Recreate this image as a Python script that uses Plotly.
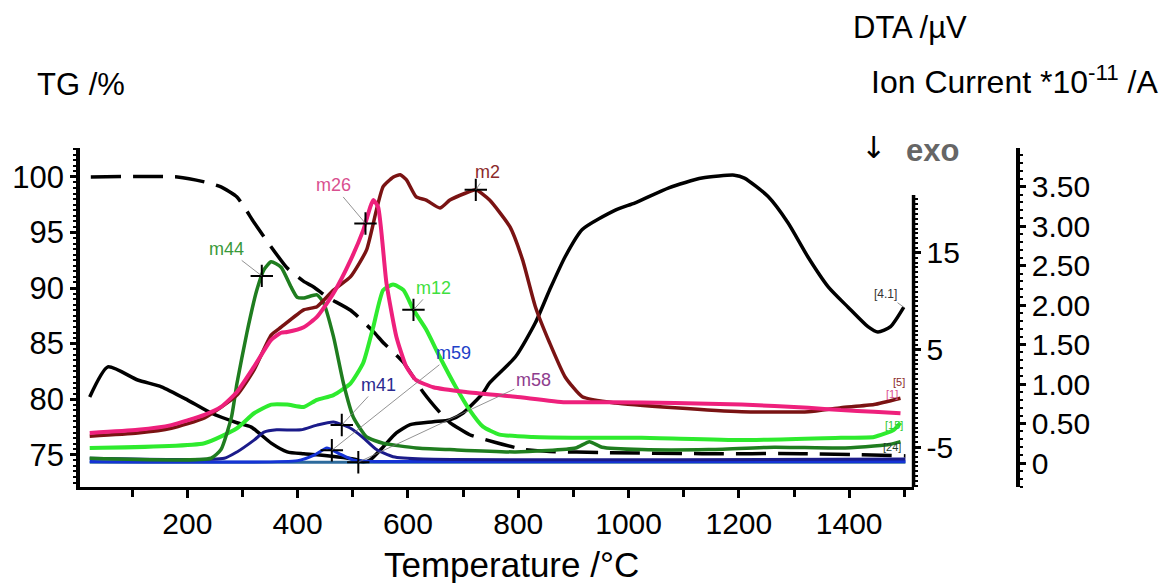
import numpy as np
import plotly.graph_objects as go

# ---------------- data ----------------
# TG (mass, %)
tg_temp = [25, 182, 231, 261, 290, 321, 352, 381, 411, 429, 453, 496, 537, 555, 592,
           628, 658, 676, 712, 759, 808, 857, 952, 1133, 1313, 1502]
tg_mass = [100, 100, 99.55, 99.1, 98.2, 95.9, 93.7, 91.8, 90.6, 90.1, 89.2, 88.0, 86.1,
           85.1, 83.3, 80.6, 78.8, 77.9, 76.8, 76.1, 75.5, 75.3, 75.2, 75.1, 75.1, 74.9]

# DTA (uV)
dta_temp = [23, 56, 110, 153, 200, 243, 290, 316, 352, 381, 411, 435, 507, 519, 532, 555,
            579, 604, 646, 676, 700, 736, 748, 795, 831, 857, 885, 916, 976, 1012, 1073,
            1133, 1192, 1210, 1253, 1289, 1325, 1362, 1398, 1434, 1452, 1475, 1499]
dta_uv = [0.15, 3.25, 1.9, 1.2, -0.15, -1.5, -2.5, -2.95, -4.6, -5.5, -5.7, -5.8, -6.3,
          -6.55, -6.3, -5.0, -3.55, -2.7, -2.4, -2.2, -1.5, 0.55, 1.6, 4.3, 7.8, 11.2,
          14.6, 17.4, 19.4, 20.15, 21.7, 22.7, 23.0, 22.7, 20.8, 18.1, 14.6, 11.5, 9.4,
          7.4, 6.85, 7.4, 9.4]

# Ion currents (*1e-11 A)
m2_temp = [23, 110, 171, 231, 290, 321, 352, 370, 411, 435, 465, 496, 525, 543, 555, 573,
           586, 597, 615, 633, 658, 676, 705, 723, 748, 785, 808, 831, 857, 885, 916, 976,
           1084, 1205, 1326, 1385, 1445, 1493]
m2_ion = [0.34, 0.38, 0.44, 0.57, 0.86, 1.18, 1.62, 1.72, 1.94, 1.98, 2.19, 2.36, 2.70,
          3.21, 3.50, 3.62, 3.65, 3.59, 3.37, 3.33, 3.23, 3.33, 3.42, 3.46, 3.33, 2.99,
          2.57, 1.98, 1.52, 1.09, 0.84, 0.76, 0.70, 0.65, 0.65, 0.70, 0.74, 0.82]

m26_temp = [23, 110, 171, 231, 261, 290, 321, 352, 370, 381, 411, 435, 465, 496, 519, 537,
            546, 561, 579, 597, 615, 646, 705, 795, 885, 965, 1084, 1205, 1326, 1385,
            1445, 1493]
m26_ion = [0.38, 0.42, 0.48, 0.61, 0.71, 0.90, 1.22, 1.56, 1.65, 1.66, 1.72, 1.85, 2.15,
           2.57, 2.95, 3.33, 3.24, 2.28, 1.60, 1.22, 1.05, 0.96, 0.90, 0.84, 0.77, 0.77,
           0.76, 0.74, 0.70, 0.67, 0.65, 0.63]

m44_temp = [23, 243, 261, 280, 290, 308, 326, 339, 352, 370, 388, 399, 411, 435, 447, 465,
            483, 501, 525, 555, 615, 676, 795, 904, 929, 952, 1024, 1145, 1264, 1385, 1470,
            1493]
m44_ion = [0.06, 0.06, 0.17, 0.58, 1.01, 1.65, 2.19, 2.45, 2.55, 2.48, 2.23, 2.10, 2.09,
           2.13, 2.03, 1.60, 1.01, 0.58, 0.33, 0.25, 0.19, 0.17, 0.14, 0.19, 0.27, 0.20,
           0.17, 0.17, 0.20, 0.19, 0.23, 0.27]

m12_temp = [23, 231, 290, 321, 352, 381, 411, 435, 465, 496, 519, 537, 555, 573, 592, 610,
            633, 658, 687, 712, 736, 766, 826, 916, 1024, 1205, 1385, 1445, 1481, 1493]
m12_ion = [0.19, 0.25, 0.44, 0.63, 0.74, 0.74, 0.71, 0.80, 0.86, 1.01, 1.27, 1.72, 2.19,
           2.26, 2.19, 1.94, 1.69, 1.34, 0.96, 0.67, 0.46, 0.36, 0.33, 0.32, 0.32, 0.29,
           0.32, 0.33, 0.42, 0.51]

m41_temp = [23, 267, 290, 321, 339, 362, 406, 435, 465, 496, 519, 543, 573, 628, 1502]
m41_ion = [0.06, 0.06, 0.14, 0.29, 0.39, 0.42, 0.42, 0.48, 0.52, 0.44, 0.32, 0.17, 0.08,
           0.05, 0.05]

m59_temp = [23, 400, 430, 453, 475, 500, 540, 1502]
m59_ion = [0.02, 0.03, 0.10, 0.19, 0.12, 0.04, 0.02, 0.02]

m58_temp = [23, 700, 1502]
m58_ion = [0.01, 0.01, 0.01]

# temperatures of the labelled cursor points
cursor_temp = {"m44": 335, "m26": 523, "m2": 723, "m12": 610, "m41": 480, "m59": 462, "m58": 510}

# ---------------- styling ----------------
REG = "Liberation Sans, Arial, sans-serif"

ms_series = {
    "m58": (m58_temp, m58_ion, "#2C6A9C", 3.0),
    "m59": (m59_temp, m59_ion, "#1533D6", 3.0),
    "m41": (m41_temp, m41_ion, "#1B1B8A", 3.0),
    "m12": (m12_temp, m12_ion, "#2EEB2E", 4.0),
    "m44": (m44_temp, m44_ion, "#1F7D1F", 3.5),
    "m2": (m2_temp, m2_ion, "#7A1313", 3.5),
    "m26": (m26_temp, m26_ion, "#EE207C", 4.0),
}
label_style = {
    "m44": ("#3A9A3A", -35, -27),
    "m26": ("#D9508F", -32, -38),
    "m2": ("#8B2A2A", 12, -18),
    "m12": ("#3FE03F", 20, -22),
    "m41": ("#2A2A90", 37, -40),
    "m59": ("#2040C8", 122, -97),
    "m58": ("#8E3C8E", 175, -82),
}

fig = go.Figure()

for name, (t, v, col, w) in ms_series.items():
    fig.add_trace(go.Scatter(x=t, y=v, mode="lines", yaxis="y3", name=name,
                             line=dict(color=col, width=w, shape="spline", smoothing=0.5),
                             hoverinfo="skip"))

fig.add_trace(go.Scatter(x=dta_temp, y=dta_uv, mode="lines", yaxis="y2", name="DTA",
                         line=dict(color="black", width=3.5, shape="spline", smoothing=0.6),
                         hoverinfo="skip"))
fig.add_trace(go.Scatter(x=tg_temp, y=tg_mass, mode="lines", yaxis="y", name="TG",
                         line=dict(color="black", width=3.5, dash="30px,12px",
                                   shape="spline", smoothing=0.5),
                         hoverinfo="skip"))

# cursor crosses and their labels
cx, cy = [], []
annotations = []
for name, temp in cursor_temp.items():
    t, v = ms_series[name][0], ms_series[name][1]
    yv = float(np.interp(temp, t, v))
    cx.append(temp)
    cy.append(yv)
    col, axo, ayo = label_style[name]
    annotations.append(dict(x=temp, y=yv, xref="x", yref="y3", text=name,
                            font=dict(family=REG, size=18, color=col),
                            showarrow=True, arrowhead=0, arrowwidth=0.8,
                            arrowcolor="#777777", ax=axo, ay=ayo, standoff=0))
fig.add_trace(go.Scatter(x=cx, y=cy, mode="markers", yaxis="y3",
                         marker=dict(symbol="cross-thin", size=16,
                                     line=dict(color="black", width=2)),
                         hoverinfo="skip"))

# DTA curve tag
annotations.append(dict(x=dta_temp[-1], y=dta_uv[-1], xref="x", yref="y2", text="[4.1]",
                        font=dict(family=REG, size=12, color="#333333"),
                        showarrow=True, arrowhead=0, arrowwidth=0.8, arrowcolor="#777777",
                        ax=-18, ay=-13, standoff=0))

# curve tags at the right end
end_tags = [("[5]", 1490, 1.02, "#8B2A2A"), ("[1]", 1478, 0.88, "#D9508F"),
            ("[15]", 1482, 0.48, "#2EC82E"), ("[24]", 1478, 0.20, "#1F3F2F")]
for txt, tx, ty, col in end_tags:
    annotations.append(dict(x=tx, y=ty, xref="x", yref="y3", text=txt, showarrow=False,
                            font=dict(family=REG, size=11, color=col)))

# axis titles and DTA direction marker
XD = 838 / 943


def px(xp):
    return (xp - 75) / 943


def py(yp):
    return (487 - yp) / 339


annotations += [
    dict(x=px(30), y=py(84), xref="paper", yref="paper", text="TG /%", showarrow=False,
         xanchor="left", yanchor="middle", font=dict(family=REG, size=31, color="black")),
    dict(x=px(850), y=py(28), xref="paper", yref="paper", text="DTA /µV", showarrow=False,
         xanchor="left", yanchor="middle", font=dict(family=REG, size=31, color="black")),
    dict(x=px(868), y=py(80), xref="paper", yref="paper",
         text="Ion Current *10<sup>-11</sup> /A", showarrow=False,
         xanchor="left", yanchor="middle", font=dict(family=REG, size=32, color="black")),
    dict(x=px(873), y=py(147), xref="paper", yref="paper", text="↓", showarrow=False,
         xanchor="center", yanchor="middle",
         font=dict(family="DejaVu Sans, sans-serif", size=30, color="black")),
    dict(x=px(903), y=py(150), xref="paper", yref="paper", text="<b>exo</b>",
         showarrow=False, xanchor="left", yanchor="middle",
         font=dict(family=REG, size=31, color="#666666")),
    dict(x=px(509), y=py(564), xref="paper", yref="paper", text="Temperature /°C",
         showarrow=False, xanchor="center", yanchor="middle",
         font=dict(family=REG, size=35, color="black")),
]

dta_minor = [v / 2 for v in range(-18, 42) if v % 20 != 10 and v / 2 <= 20.5]

fig.update_layout(
    width=1165, height=583,
    margin=dict(l=75, r=147, t=148, b=96),
    paper_bgcolor="white", plot_bgcolor="white",
    showlegend=False,
    annotations=annotations,
    xaxis=dict(domain=[0, XD], range=[5.4, 1516.7], showgrid=False, zeroline=False,
               showline=True, linecolor="black", linewidth=3,
               ticks="outside", ticklen=8, tickwidth=2.5, tickcolor="black",
               tick0=0, dtick=200,
               minor=dict(dtick=100, ticks="outside", ticklen=7, tickwidth=2.5,
                          tickcolor="black"),
               tickfont=dict(family=REG, size=30, color="black")),
    yaxis=dict(range=[72.1, 102.6], showgrid=False, zeroline=False,
               showline=True, linecolor="black", linewidth=3.5,
               ticks="outside", ticklen=6, tickwidth=2.5, tickcolor="black",
               tick0=0, dtick=5,
               minor=dict(dtick=0.5, ticks="outside", ticklen=3, tickwidth=2,
                          tickcolor="black"),
               tickfont=dict(family=REG, size=31, color="black")),
    yaxis2=dict(overlaying="y", side="right", anchor="x", range=[-9.12, 25.8],
                showgrid=False, zeroline=False, showline=False,
                ticks="outside", ticklen=6, tickwidth=2.5, tickcolor="black",
                tickmode="array", tickvals=[-5, 5, 15], ticktext=["-5", "5", "15"],
                minor=dict(tickmode="array", tickvals=dta_minor, ticks="outside",
                           ticklen=3, tickwidth=2, tickcolor="black"),
                tickfont=dict(family=REG, size=30, color="black")),
    yaxis3=dict(overlaying="y", side="right", anchor="free", position=1.0,
                range=[-0.304, 3.99], showgrid=False, zeroline=False,
                showline=True, linecolor="black", linewidth=3.5,
                ticks="outside", ticklen=6, tickwidth=2.5, tickcolor="black",
                tickmode="array", tickvals=[0, 0.5, 1, 1.5, 2, 2.5, 3, 3.5],
                ticktext=["0", "0.50", "1.00", "1.50", "2.00", "2.50", "3.00", "3.50"],
                minor=dict(dtick=0.1, ticks="outside", ticklen=3, tickwidth=2,
                           tickcolor="black"),
                tickfont=dict(family=REG, size=30, color="black")),
    shapes=[dict(type="line", xref="paper", yref="paper", x0=XD, x1=XD, y0=0,
                 y1=py(195), line=dict(color="black", width=3.5))],
)

fig.write_html("out.html")
